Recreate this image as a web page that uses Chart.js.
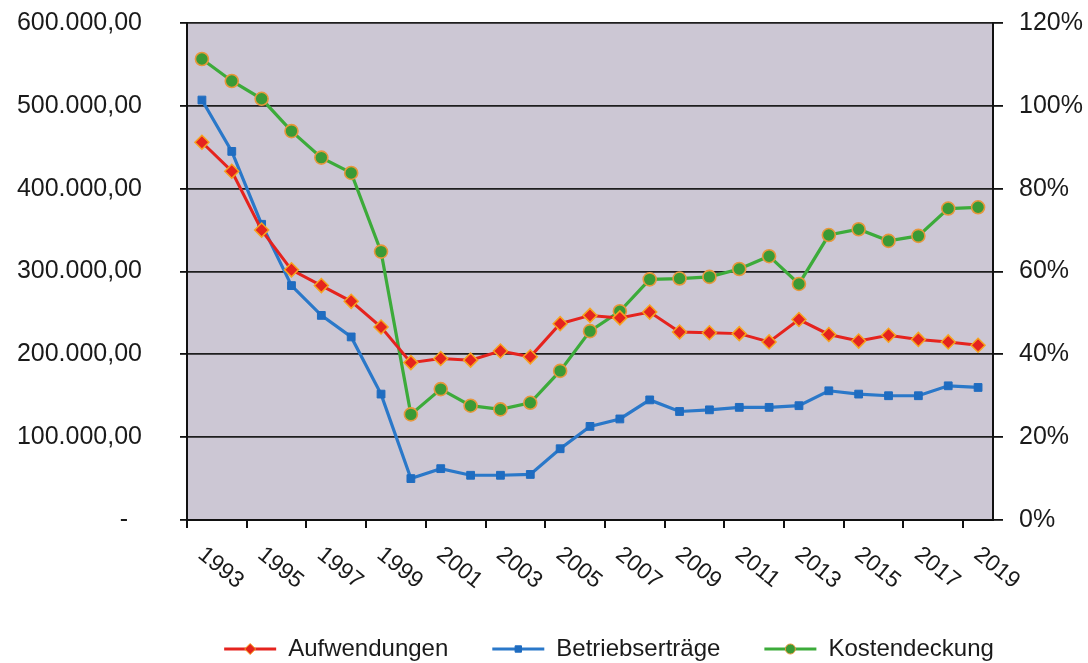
<!DOCTYPE html>
<html lang="de">
<head>
<meta charset="utf-8">
<title>Aufwendungen, Betriebserträge und Kostendeckung</title>
<script src="https://cdn.jsdelivr.net/npm/chart.js@4.4.1/dist/chart.umd.min.js"></script>
<style>
  html, body { margin: 0; padding: 0; background: #fff; }
  canvas { display: block; }
</style>
</head>
<body>
<canvas id="grafico" width="1088" height="663"></canvas>
<script>
const jahre = ['1993', '1994', '1995', '1996', '1997', '1998', '1999', '2000', '2001', '2002',
  '2003', '2004', '2005', '2006', '2007', '2008', '2009', '2010', '2011', '2012',
  '2013', '2014', '2015', '2016', '2017', '2018', '2019']

const aufwendungen = [456000, 421000, 350000, 302000, 283000, 264000, 233000, 190000, 195000, 193000,
  204000, 197000, 237000, 247000, 244000, 251000, 227000, 226000, 225000, 215000,
  242000, 224000, 216000, 223000, 218000, 215000, 211000]

const betriebsertraege = [507000, 445000, 357000, 283000, 247000, 221000, 152000, 50000, 62000, 54000,
  54000, 55000, 86000, 113000, 122000, 145000, 131000, 133000, 136000, 136000,
  138000, 156000, 152000, 150000, 150000, 162000, 160000]

// Kostendeckung in Prozent (rechte Achse)
const kostendeckung = [111.3, 106.0, 101.7, 93.9, 87.5, 83.8, 64.8, 25.5, 31.6, 27.6,
  26.7, 28.3, 36.0, 45.6, 50.4, 58.1, 58.3, 58.7, 60.6, 63.7,
  57.0, 68.8, 70.2, 67.4, 68.6, 75.2, 75.5]

const schrift = '"Liberation Sans", Arial, sans-serif'
const textFarbe = '#1a1a1a'

const formatZahl = (v) => {
  if (v === 0) return '-  '
  const ganz = Math.round(v).toString().replace(/\B(?=(\d{3})+(?!\d))/g, '.')
  return ganz + ',00'
}

// grauer Hintergrund der Zeichenfläche
const hintergrund = {
  id: 'hintergrund',
  beforeDraw(chart) {
    const {ctx, chartArea: a} = chart
    ctx.save()
    ctx.fillStyle = '#ccc7d4'
    ctx.fillRect(a.left, a.top, a.right - a.left, a.bottom - a.top)
    ctx.restore()
  }
}

// Jahreszahlen schräg nach unten (jede zweite)
const jahrLabels = {
  id: 'jahrLabels',
  afterDraw(chart) {
    const {ctx, chartArea} = chart
    const xAchse = chart.scales.x
    ctx.save()
    ctx.font = '23px ' + schrift
    ctx.fillStyle = textFarbe
    ctx.textAlign = 'left'
    ctx.textBaseline = 'top'
    chart.data.labels.forEach((jahr, i) => {
      if (i % 2) return
      ctx.save()
      ctx.translate(xAchse.getPixelForValue(i) + 6, chartArea.bottom + 23)
      ctx.rotate(39 * Math.PI / 180)
      ctx.fillText(jahr, 0, 0)
      ctx.restore()
    })
    ctx.restore()
  }
}

const marker = (ctx, stil, x, y, r) => {
  ctx.beginPath()
  if (stil === 'rectRot') {
    ctx.moveTo(x, y - r); ctx.lineTo(x + r, y); ctx.lineTo(x, y + r); ctx.lineTo(x - r, y)
    ctx.closePath()
  } else if (stil === 'rect') {
    const s = r * 0.8
    ctx.rect(x - s, y - s, 2 * s, 2 * s)
  } else {
    ctx.arc(x, y, r, 0, Math.PI * 2)
  }
  ctx.fill()
  ctx.stroke()
}

// Legende unten mit Linie + Marker
const legende = {
  id: 'legende',
  afterDraw(chart) {
    const ctx = chart.ctx
    ctx.save()
    ctx.font = '24px ' + schrift
    const probe = 52, abstand = 12, luecke = 44
    const breiten = chart.data.datasets.map(d => probe + abstand + ctx.measureText(d.label).width)
    const gesamt = breiten.reduce((a, b) => a + b, 0) + luecke * (breiten.length - 1)
    let x = 609 - gesamt / 2
    const y = 649
    chart.data.datasets.forEach((d, i) => {
      ctx.strokeStyle = d.borderColor
      ctx.lineWidth = 3
      ctx.beginPath()
      ctx.moveTo(x, y)
      ctx.lineTo(x + probe, y)
      ctx.stroke()
      ctx.fillStyle = d.pointBackgroundColor
      ctx.strokeStyle = d.pointBorderColor
      ctx.lineWidth = 1
      marker(ctx, d.pointStyle, x + probe / 2, y, d.pointRadius - 1.5)
      ctx.fillStyle = textFarbe
      ctx.textBaseline = 'middle'
      ctx.textAlign = 'left'
      ctx.fillText(d.label, x + probe + abstand, y)
      x += breiten[i] + luecke
    })
    ctx.restore()
  }
}

const sinRand = (s) => { s.paddingTop = 0; s.paddingBottom = 0 }

const ctx = document.getElementById('grafico')

const grafico = new Chart(ctx, {
  type: 'line',
  data: {
    labels: jahre,
    datasets: [
      {
        label: 'Aufwendungen',
        data: aufwendungen,
        yAxisID: 'y',
        borderColor: '#e5231e',
        borderWidth: 3,
        pointStyle: 'rectRot',
        pointRadius: 7,
        pointBackgroundColor: '#e5231e',
        pointBorderColor: '#f6a31e',
        pointBorderWidth: 1.5,
        tension: 0
      },
      {
        label: 'Betriebserträge',
        data: betriebsertraege,
        yAxisID: 'y',
        borderColor: '#2a78c9',
        borderWidth: 3.2,
        pointStyle: 'rect',
        pointRadius: 5.5,
        pointBackgroundColor: '#1f6cc0',
        pointBorderColor: '#1f6cc0',
        pointBorderWidth: 1,
        tension: 0
      },
      {
        label: 'Kostendeckung',
        data: kostendeckung,
        yAxisID: 'y1',
        borderColor: '#3cab3a',
        borderWidth: 3.2,
        pointStyle: 'circle',
        pointRadius: 6.5,
        pointBackgroundColor: '#3a9a35',
        pointBorderColor: '#e8973a',
        pointBorderWidth: 1.6,
        tension: 0
      }
    ]
  },
  options: {
    responsive: false,
    animation: false,
    devicePixelRatio: 1,
    layout: { padding: { top: 23, left: 0, right: 0, bottom: 0 } },
    plugins: {
      legend: { display: false },
      tooltip: { enabled: false }
    },
    scales: {
      x: {
        type: 'category',
        offset: true,
        grid: {
          display: true,
          drawOnChartArea: false,
          offset: true,
          tickLength: 8,
          lineWidth: 2,
          tickColor: (c) => (c.index % 2 === 0 ? '#111' : 'rgba(0,0,0,0)')
        },
        border: { display: true, color: '#111', width: 2 },
        ticks: { display: false, autoSkip: false },
        afterFit: (s) => { s.height = 143 }
      },
      y: {
        position: 'left',
        min: 0,
        max: 600000,
        ticks: {
          stepSize: 100000,
          padding: 38,
          color: textFarbe,
          font: { family: schrift, size: 25 },
          callback: (v) => formatZahl(v)
        },
        grid: { color: '#1e1e1e', lineWidth: 1.8, tickLength: 7, tickColor: '#111' },
        border: { display: true, color: '#111', width: 2 },
        afterFit: (s) => { s.width = 187; sinRand(s) }
      },
      y1: {
        position: 'right',
        min: 0,
        max: 120,
        ticks: {
          stepSize: 20,
          padding: 16,
          color: textFarbe,
          font: { family: schrift, size: 25 },
          callback: (v) => v + '%'
        },
        grid: { drawOnChartArea: false, tickLength: 10, tickColor: '#111', lineWidth: 1.8 },
        border: { display: true, color: '#111', width: 2 },
        afterFit: (s) => { s.width = 95; sinRand(s) }
      }
    }
  },
  plugins: [hintergrund, jahrLabels, legende]
})
</script>
</body>
</html>
